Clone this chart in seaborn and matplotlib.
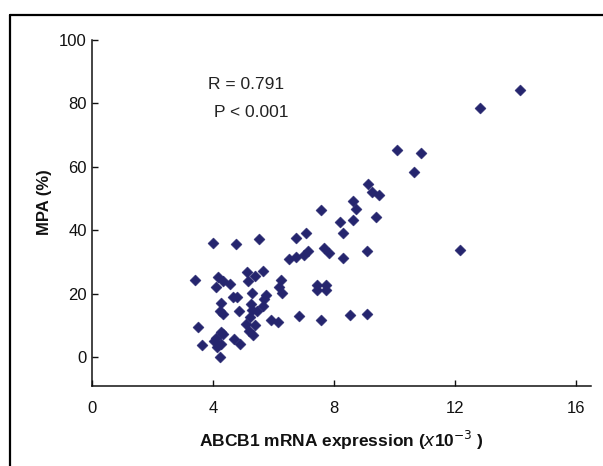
import matplotlib
matplotlib.use("Agg")
import matplotlib.pyplot as plt
from matplotlib.lines import Line2D
import seaborn as sns
import pandas as pd

# ABCB1 mRNA expression (x10^-3)
abcb1 = [14.15, 12.83, 10.09, 10.89, 10.66, 9.13, 9.26, 9.49, 8.63, 8.73,
         9.38, 8.62, 8.18, 7.56, 8.29, 7.07, 6.73, 5.53, 4.74, 4.00,
         9.09, 8.29, 12.15, 7.65, 7.84, 7.14, 7.01, 6.73, 6.52,
         3.39, 4.17, 4.32, 4.10, 4.54, 5.12, 5.14, 5.38, 5.66, 6.24,
         6.19, 6.27, 7.42, 7.74, 7.42, 7.72, 4.64, 4.78, 5.29, 5.75,
         5.68, 4.26, 5.24, 5.66, 4.23, 4.34, 4.86, 5.28, 5.46, 5.22,
         5.91, 6.13, 6.85, 7.57, 8.51, 9.09,
         3.49, 5.07, 5.39, 4.26, 4.34, 5.18, 5.33, 4.10, 4.03, 4.69,
         4.89, 4.12, 4.26, 3.63, 4.23]
# MPA (%)
mpa = [84.2, 78.6, 65.2, 64.5, 58.4, 54.7, 52.0, 51.3, 49.4, 46.8,
       44.2, 43.3, 42.7, 46.6, 39.1, 39.1, 37.7, 37.4, 35.6, 36.0,
       33.5, 31.4, 33.9, 34.4, 33.0, 33.6, 32.3, 31.6, 31.0,
       24.4, 25.2, 24.2, 22.3, 23.2, 26.9, 24.1, 25.6, 27.1, 24.4,
       22.3, 20.4, 22.8, 22.7, 21.4, 21.4, 19.1, 19.1, 20.2, 19.7,
       18.5, 17.2, 16.8, 16.2, 14.7, 13.7, 14.7, 14.9, 14.6, 12.8,
       11.8, 11.2, 13.0, 11.8, 13.3, 13.8,
       9.7, 10.4, 10.2, 8.1, 7.3, 8.3, 7.0, 6.2, 5.1, 5.7,
       4.2, 3.3, 4.1, 3.9, 0.1]

x_ticks = [0, 4, 8, 12, 16]
y_ticks = [0, 20, 40, 60, 80, 100]
stat_lines = ["R = 0.791", "P < 0.001"]

df = pd.DataFrame({"abcb1": abcb1, "mpa": mpa})

sns.set_theme(style="white")
plt.rcParams["font.family"] = ["Liberation Sans", "DejaVu Sans"]

fig = plt.figure(figsize=(6.03, 4.66), dpi=100)
ax = fig.add_axes([92.3 / 603, 1 - 386 / 466, (591 - 92.3) / 603, (386 - 40) / 466])

sns.scatterplot(data=df, x="abcb1", y="mpa", marker="D", s=32,
                color="#25256e", edgecolor="#25256e", linewidth=0.3, ax=ax)

ax.set_xlim(0, 16.5)
ax.set_ylim(-9, 100)
ax.set_xticks(x_ticks)
ax.set_yticks(y_ticks)
ax.set_xticklabels([str(v) for v in x_ticks])
ax.set_yticklabels([str(v) for v in y_ticks])
ax.tick_params(axis="x", direction="in", length=4, width=1, pad=11,
               labelsize=12, colors="#111111", bottom=True)
ax.tick_params(axis="y", direction="in", length=4, width=1, pad=4,
               labelsize=12, colors="#111111", left=True)
for side in ["top", "right"]:
    ax.spines[side].set_visible(False)
for side in ["left", "bottom"]:
    ax.spines[side].set_color("#111111")
    ax.spines[side].set_linewidth(1.1)

ax.set_xlabel(r"ABCB1 mRNA expression ($\mathit{x}$10$^{-3}$ )",
              fontsize=12.5, fontweight="bold", color="#111111", labelpad=9)
ax.set_ylabel("MPA (%)", fontsize=12, fontweight="bold", color="#111111")
ax.yaxis.set_label_coords(-0.08, 0.53)

ax.text(3.83, 85.9, stat_lines[0], fontsize=12.5, va="center", ha="left",
        color="#222222")
ax.text(4.03, 77.1, stat_lines[1], fontsize=12.5, va="center", ha="left",
        color="#222222")

# outer frame (left and top edges)
fig.add_artist(Line2D([9.5 / 603, 9.5 / 603], [0, 1 - 14.5 / 466],
                      transform=fig.transFigure, color="black", linewidth=1.6))
fig.add_artist(Line2D([9.5 / 603, 1], [1 - 14.5 / 466, 1 - 14.5 / 466],
                      transform=fig.transFigure, color="black", linewidth=1.6))

fig.savefig("out.png", dpi=100)
